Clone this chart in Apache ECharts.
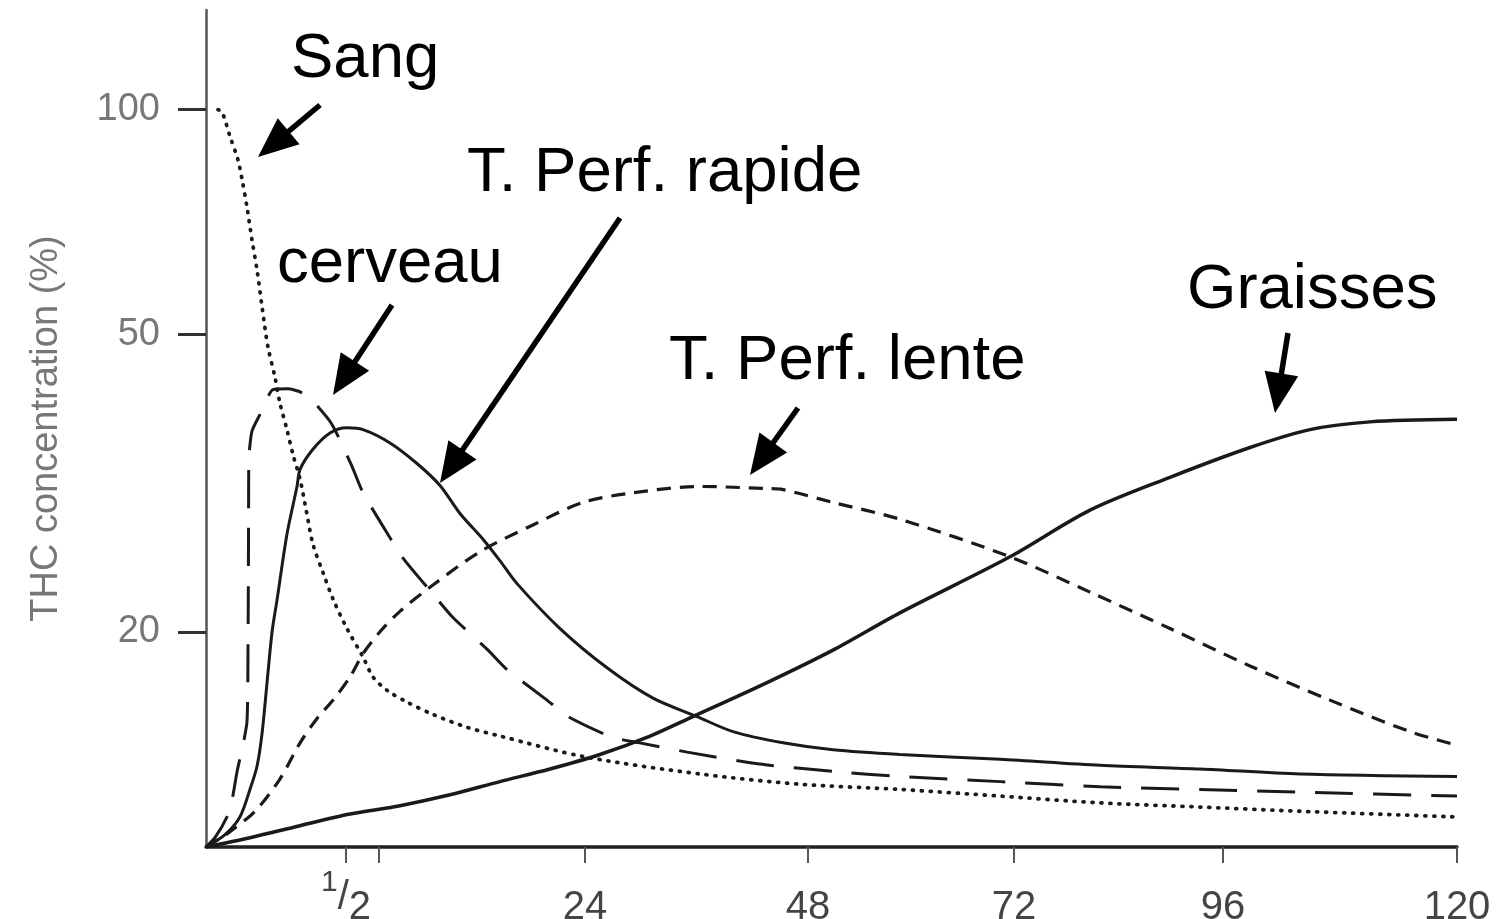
<!DOCTYPE html>
<html>
<head>
<meta charset="utf-8">
<script src="https://cdn.jsdelivr.net/npm/echarts@6/dist/echarts.min.js"></script>
<style>
html,body{margin:0;padding:0;background:#fff;}
#chart{width:1496px;height:919px;}
</style>
</head>
<body>
<div id="chart"></div>
<script>
// ---------- tick labels ----------
const xTickHours  = [0.5, 1, 24, 48, 72, 96, 120];
const xLabelHours = [0.5, 24, 48, 72, 96, 120];
const xLabelTexts = ['1/2', '24', '48', '72', '96', '120'];
const yTickValues = [20, 50, 100];

// ---------- series (time in hours, THC concentration in %) ----------
const sangHours = [0.043,0.057,0.086,0.114,0.129,0.146,0.164,0.182,0.2,0.221,0.246,0.264,0.289,0.311,0.336,0.357,0.382,0.418,0.454,0.515,0.758,0.909,1.89,4.13,7.03,10.8,14.5,24,36.4,47.1,58.7,70.4,81.9,93.4,103.9,120];
const sangPct   = [100,99.4,92.0,85.7,80.6,74.2,67.0,61.1,54.5,48.2,43.9,40.5,37.3,34.5,32.0,29.2,26.2,24.0,22.1,20.2,18.5,17.4,16.7,16.1,15.5,14.9,14.5,13.6,12.9,12.5,12.3,12.05,11.8,11.65,11.5,11.3];

const cerveauHours = [0,0.032,0.075,0.093,0.111,0.132,0.146,0.149,0.15,0.151,0.152,0.153,0.164,0.193,0.239,0.293,0.336,0.382,0.45,0.591,0.758,2.0,3.79,7.25,9.26,13.17,15.29,19.76,22.1,26.9,29.9,35.0,42.8,51.1,58.7,70.4,81.9,93.4,103.9,120];
const cerveauPct   = [10.3,10.6,11.3,11.9,13.0,14.1,15.1,16.6,18.9,22.1,27.7,34.0,37.1,39.1,42.2,42.3,41.9,40.7,37.9,33.3,30.7,27.0,25.0,22.3,20.9,18.9,17.8,16.2,15.4,14.45,14.2,13.8,13.3,13.0,12.8,12.6,12.4,12.3,12.2,12.05];

const rapideHours = [0,0.068,0.121,0.157,0.182,0.2,0.218,0.236,0.254,0.289,0.325,0.336,0.382,0.443,0.515,0.758,2.23,5.24,7.81,10.04,12.61,14.5,16.41,21.21,26.37,31.32,36.05,39.93,45.31,50.91,58.7,70.4,81.9,93.4,103.9,120];
const rapidePct   = [10.3,10.7,11.3,12.3,13.2,14.6,17.1,20.0,22.1,27.0,31.3,33.0,35.1,36.9,37.5,37.3,35.8,33.6,31.4,28.8,26.6,24.9,23.2,20.2,17.9,16.3,15.4,14.7,14.2,13.9,13.7,13.5,13.25,13.1,12.9,12.8];

const lenteHours = [0,0.086,0.175,0.264,0.336,0.396,0.454,0.561,0.758,1.11,3.34,7.03,12.28,18.19,23.78,29.17,36.38,43.59,45.31,50.91,58.7,71.53,80.73,89.91,98.77,106.97,115.18,120];
const lentePct   = [10.3,10.8,11.5,12.7,14.2,15.3,16.2,17.4,18.7,20.0,21.3,23.1,25.6,27.8,29.8,30.7,31.3,31.1,31.0,29.8,28.3,25.2,22.6,20.2,18.0,16.2,14.7,14.1];

const graissesHours = [0,0.157,0.336,0.561,3.34,8.93,14.5,20.09,25.61,31.0,35.62,43.59,50.91,58.7,71.53,80.73,89.91,98.77,104.92,111.08,120];
const graissesPct   = [10.3,10.6,11.0,11.4,11.7,12.1,12.6,13.1,13.7,14.5,15.4,17.1,18.9,21.2,25.2,29.1,32.2,35.3,37.3,38.2,38.5];

// ---------- piecewise time scale of the original figure (first hour stretched) ----------
const warpHours = [0, 0.5, 1, 24, 48, 72, 96, 120];
const warpUnits = [0, 140, 173, 379, 602, 808, 1017, 1251];
function toAxis(h) {
  for (let i = 1; i < warpHours.length; i++) {
    if (h <= warpHours[i]) {
      const t = (h - warpHours[i-1]) / (warpHours[i] - warpHours[i-1]);
      return warpUnits[i-1] + t * (warpUnits[i] - warpUnits[i-1]);
    }
  }
  return warpUnits[warpUnits.length - 1];
}
function pairs(hs, vs) { return hs.map((h, i) => [toAxis(h), vs[i]]); }

// ---------- annotations (pixel layout) ----------
const annotations = [
  { text: 'Sang',            x: 291,  y: 59,  from: [320, 105],  to: [258, 157] },
  { text: 'T. Perf. rapide', x: 467,  y: 173, from: [620, 218],  to: [440, 483] },
  { text: 'cerveau',         x: 277,  y: 264, from: [392, 305],  to: [333, 395] },
  { text: 'T. Perf. lente',  x: 669,  y: 361, from: [798, 408],  to: [750, 475] },
  { text: 'Graisses',        x: 1187, y: 290, from: [1288, 333], to: [1275, 413] }
];

const graphics = [];
annotations.forEach(a => {
  graphics.push({
    type: 'text', silent: true,
    style: { x: a.x, y: a.y, text: a.text, font: '63.5px "Liberation Sans", Arial, sans-serif',
             fill: '#000', align: 'left', verticalAlign: 'middle' }
  });
  const dx = a.to[0] - a.from[0], dy = a.to[1] - a.from[1];
  const len = Math.sqrt(dx*dx + dy*dy), ux = dx/len, uy = dy/len;
  const headLen = 40, halfW = 17;
  const bx = a.to[0] - ux*headLen, by = a.to[1] - uy*headLen;
  graphics.push({
    type: 'line', silent: true,
    shape: { x1: a.from[0], y1: a.from[1], x2: bx + ux*4, y2: by + uy*4 },
    style: { stroke: '#000', lineWidth: 5.5 }
  });
  graphics.push({
    type: 'polygon', silent: true,
    shape: { points: [[a.to[0], a.to[1]], [bx - uy*halfW, by + ux*halfW], [bx + uy*halfW, by - ux*halfW]] },
    style: { fill: '#000' }
  });
});

const lineColor = '#1a1a1a';
function mkSeries(name, hs, vs, type, width, smooth, cap) {
  return {
    name: name, type: 'line', data: pairs(hs, vs),
    showSymbol: false, symbol: 'none', smooth: smooth, silent: true,
    lineStyle: { color: lineColor, width: width, type: type, cap: cap || 'butt' },
    z: 3
  };
}

const chart = echarts.init(document.getElementById('chart'));
const labelFont = '"Liberation Sans", Arial, sans-serif';
chart.setOption({
  backgroundColor: '#ffffff',
  animation: false,
  grid: { left: 206, right: 39, top: 10, bottom: 72, containLabel: false, outerBoundsMode: 'none' },
  xAxis: {
    type: 'value', min: 0, max: warpUnits[warpUnits.length - 1],
    splitLine: { show: false },
    axisLine: { show: true, onZero: false, lineStyle: { color: '#222', width: 3.5 } },
    axisTick: { show: true, customValues: xTickHours.map(toAxis), length: 16, inside: false,
                lineStyle: { color: '#555', width: 2 } },
    axisLabel: {
      show: true, customValues: xLabelHours.map(toAxis), margin: 21,
      formatter: function (v) {
        let best = 0, bd = Infinity;
        xLabelHours.forEach((h, i) => { const d = Math.abs(toAxis(h) - v); if (d < bd) { bd = d; best = i; } });
        const t = xLabelTexts[best];
        if (t === '1/2') return '{n|1}{s|/}{d|2}';
        return '{v|' + t + '}';
      },
      rich: {
        v: { fontSize: 40, fontFamily: labelFont, color: '#444', lineHeight: 60, verticalAlign: 'bottom' },
        n: { fontSize: 30, fontFamily: labelFont, color: '#444', lineHeight: 60, verticalAlign: 'top' },
        s: { fontSize: 40, fontFamily: labelFont, color: '#444', lineHeight: 60, verticalAlign: 'middle' },
        d: { fontSize: 40, fontFamily: labelFont, color: '#444', lineHeight: 60, verticalAlign: 'bottom' }
      }
    }
  },
  yAxis: {
    type: 'log', logBase: 10, min: 10.3, max: 136,
    name: 'THC concentration (%)', nameLocation: 'middle', nameRotate: 90, nameGap: 140,
    nameTextStyle: { fontSize: 38, fontFamily: labelFont, color: '#777' },
    splitLine: { show: false }, minorTick: { show: false }, minorSplitLine: { show: false },
    axisLine: { show: true, lineStyle: { color: '#555', width: 2.5 } },
    axisTick: { show: true, customValues: yTickValues, length: 28, lineStyle: { color: '#333', width: 3 } },
    axisLabel: { show: true, customValues: yTickValues, margin: 46, fontSize: 38, fontFamily: labelFont, color: '#777' }
  },
  series: [
    mkSeries('Sang', sangHours, sangPct, [1, 8], 3.8, 0.3, 'round'),
    mkSeries('cerveau', cerveauHours, cerveauPct, [38, 20], 3, 0.2),
    mkSeries('T. Perf. rapide', rapideHours, rapidePct, 'solid', 3, 0.3),
    mkSeries('T. Perf. lente', lenteHours, lentePct, [14, 9], 3.2, 0.3),
    mkSeries('Graisses', graissesHours, graissesPct, 'solid', 3.5, 0.3)
  ],
  graphic: graphics
});
</script>
</body>
</html>
